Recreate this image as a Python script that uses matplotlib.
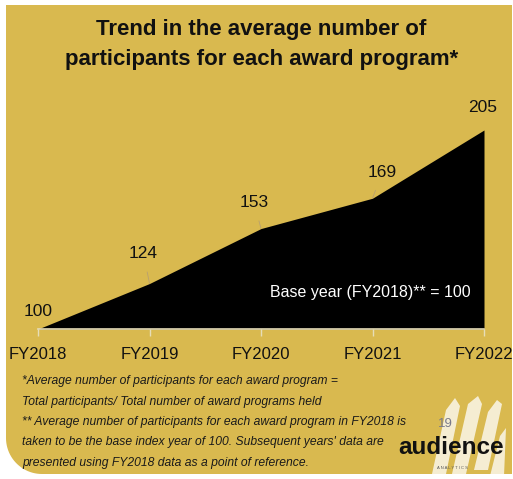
import numpy as np
import matplotlib.pyplot as plt
from matplotlib.patches import Polygon

# index values per fiscal year (FY2018 = 100)
years = ['FY2018', 'FY2019', 'FY2020', 'FY2021', 'FY2022']
index_values = [100, 124, 153, 169, 205]

gold = '#D9B94F'
sans = ['Liberation Sans', 'DejaVu Sans']

W, H = 513, 479
fig = plt.figure(figsize=(W / 100, H / 100), dpi=100)
fig.patch.set_facecolor('white')

# gold slide background, square corners except the bottom-left one
bg = fig.add_axes([0, 0, 1, 1])
bg.set_xlim(0, W)
bg.set_ylim(H, 0)
bg.axis('off')
r = 36
left, top, right, bottom = 6, 5, 512, 474
t = np.linspace(np.pi / 2, np.pi, 24)
corner = np.column_stack([left + r + r * np.cos(t), bottom - r + r * np.sin(t)])
outline = np.vstack([[[left, top], [right, top], [right, bottom]], corner])
bg.add_patch(Polygon(outline, closed=True, facecolor=gold, edgecolor='none'))

# brush strokes behind the logo
strokes = [
    [(432, 474), (446, 410), (455, 398), (460, 406), (446, 474)],
    [(452, 474), (468, 404), (478, 396), (482, 404), (466, 474)],
    [(474, 470), (488, 412), (497, 400), (502, 404), (488, 470)],
    [(490, 476), (500, 436), (506, 428), (504, 476)],
]
for s in strokes:
    bg.add_patch(Polygon(s, closed=True, facecolor='white', edgecolor='none', alpha=0.75))

# title
fig.text(261 / W, 1 - 29 / H, 'Trend in the average number of', ha='center', va='center',
         fontsize=16, fontweight='bold', family=sans, color='#111111')
fig.text(262 / W, 1 - 59 / H, 'participants for each award program*', ha='center', va='center',
         fontsize=16, fontweight='bold', family=sans, color='#111111')

# area chart
ax = fig.add_axes([38 / W, 1 - 329 / H, (484 - 38) / W, (329 - 130) / H])
ax.set_facecolor('none')
x = np.arange(len(years))
ax.fill_between(x, index_values, 100, color='black', lw=0)
ax.set_xlim(0, len(years) - 1)
ax.set_ylim(100, 205)
for sp in ['top', 'right', 'left']:
    ax.spines[sp].set_visible(False)
ax.spines['bottom'].set_color('#E6DDB8')
ax.spines['bottom'].set_linewidth(1.2)
ax.set_yticks([])
ax.set_xticks(x)
ax.set_xticklabels(years, fontsize=12, family=sans, color='#111111')
ax.tick_params(axis='x', length=5, width=1, color='#E6DDB8', pad=8)

# value labels with thin leader lines
label_offsets = [(0, 17), (-6, 30), (-7, 26), (10, 26), (-1, 23)]
for xi, v, (dx, dy) in zip(x, index_values, label_offsets):
    ax.annotate(str(v), xy=(xi, v), xytext=(dx * 0.72, dy * 0.72), textcoords='offset points',
                ha='center', va='center', fontsize=12.5, family=sans, color='#111111',
                annotation_clip=False,
                arrowprops=dict(arrowstyle='-', color='#B8A070', lw=0.6, shrinkA=6, shrinkB=0)
                if xi not in (0, 4) else None)

ax.text((471 - 38) / (484 - 38), (329 - 293) / (329 - 130), 'Base year (FY2018)** = 100',
        transform=ax.transAxes, ha='right', va='center', fontsize=11.5,
        family=sans, color='white')

# footnotes
notes = ['*Average number of participants for each award program =',
         'Total participants/ Total number of award programs held',
         '** Average number of participants for each award program in FY2018 is',
         "taken to be the base index year of 100. Subsequent years' data are",
         'presented using FY2018 data as a point of reference.']
for i, line in enumerate(notes):
    fig.text(22 / W, 1 - (381 + i * 20.5) / H, line, ha='left', va='center',
             fontsize=8.7, style='italic', family=sans, color='#1a1a1a')

# logo
fig.text(445 / W, 1 - 424 / H, '19', ha='center', va='center', fontsize=9.5,
         color='#7a7a8a', family=sans)
fig.text(451 / W, 1 - 447 / H, 'audience', ha='center', va='center', fontsize=17.5,
         color='#111111', family=sans, fontweight='bold')
fig.text(452 / W, 1 - 468 / H, 'A N A L Y T I C S', ha='center', va='center', fontsize=3,
         color='#555555', family=sans)

fig.savefig('out.png', dpi=100, facecolor=fig.get_facecolor())
